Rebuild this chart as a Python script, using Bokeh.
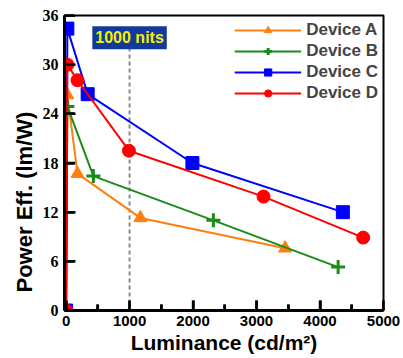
import math
from bokeh.plotting import figure
from bokeh.models import Legend, LegendItem, Label, Range1d, FixedTicker, ColumnDataSource, Title
from bokeh.embed import file_html
from bokeh.resources import INLINE

# ---- data ----
lum_a = [0, 20, 180, 1170, 3450]
pe_a = [0, 26.3, 16.7, 11.3, 7.6]
lum_b = [0, 20, 430, 2320, 4285]
pe_b = [0, 24.9, 16.4, 11.0, 5.3]
lum_c = [0, 20, 340, 1990, 4360]
pe_c = [0, 34.4, 26.4, 18.0, 12.0]
lum_d = [0, 20, 180, 990, 3110, 4680]
pe_d = [0, 30.0, 28.1, 19.5, 13.9, 8.9]

labels = ["Device A", "Device B", "Device C", "Device D"]
colors = ["#ff7f0e", "#1a8c1a", "#0000ff", "#ff0000"]
markers = ["triangle", "cross", "square", "circle"]

x_ticks = [0, 1000, 2000, 3000, 4000, 5000]
x_minor = [500, 1500, 2500, 3500, 4500]
y_ticks = [0, 6, 12, 18, 24, 30, 36]
nits_x = 1000
nits_text = "1000 nits"

X0, X1, Y0, Y1 = -25, 5000, 0, 36
p = figure(width=403, height=358, output_backend="svg", toolbar_location=None,
           x_range=Range1d(X0, X1), y_range=Range1d(Y0, Y1),
           min_border_left=64, min_border_right=20, min_border_top=15, min_border_bottom=48)
p.background_fill_color = "white"
p.border_fill_color = "white"
p.xgrid.visible = False
p.ygrid.visible = False
p.outline_line_color = "black"
p.outline_line_width = 2

# tick marks: length in pixels converted to data units
fw, fh = 319.0, 295.0
ux = (X1 - X0) / fw
uy = (Y1 - Y0) / fh
tick_src = ColumnDataSource(dict(
    x0=[float(v) for v in x_ticks], y0=[float(Y0)] * len(x_ticks),
    x1=[float(v) for v in x_ticks], y1=[Y0 + 10.0 * uy] * len(x_ticks)))
p.segment(x0="x0", y0="y0", x1="x1", y1="y1", source=tick_src,
          line_color="black", line_width=2.5)
minor_src = ColumnDataSource(dict(
    x0=[float(v) for v in x_minor], y0=[float(Y0)] * len(x_minor),
    x1=[float(v) for v in x_minor], y1=[Y0 + 6.0 * uy] * len(x_minor)))
p.segment(x0="x0", y0="y0", x1="x1", y1="y1", source=minor_src,
          line_color="black", line_width=2.5)
ytick_src = ColumnDataSource(dict(
    x0=[float(X0)] * len(y_ticks), y0=[float(v) for v in y_ticks],
    x1=[X0 + 11.0 * ux] * len(y_ticks), y1=[float(v) for v in y_ticks]))
p.segment(x0="x0", y0="y0", x1="x1", y1="y1", source=ytick_src,
          line_color="black", line_width=2.5)

# dashed reference line at 1000 nits
p.segment(x0=[nits_x], y0=[0], x1=[nits_x], y1=[32], line_color="#8a8a8a",
          line_width=2, line_dash="4 3")

series = [(lum_a, pe_a), (lum_b, pe_b), (lum_c, pe_c), (lum_d, pe_d)]
items = []
for (xs, ys), lab, col, mk in zip(series, labels, colors, markers):
    src = ColumnDataSource(dict(x=xs, y=ys))
    r1 = p.line("x", "y", source=src, line_color=col, line_width=2)
    if mk == "cross":
        r2 = p.scatter("x", "y", source=src, marker=mk, size=14, line_color=col, line_width=3)
    else:
        r2 = p.scatter("x", "y", source=src, marker=mk, size=13, fill_color=col, line_color=col)
    items.append(LegendItem(label=lab, renderers=[r1, r2]))

legend = Legend(items=items, location="top_right", glyph_width=67, glyph_height=18,
                label_height=18, spacing=1, padding=0, margin=5,
                label_text_font="Liberation Sans", label_text_font_style="bold",
                label_text_font_size="17px", label_standoff=5,
                border_line_color=None, background_fill_alpha=0)
p.add_layout(legend)

lbl = Label(x=nits_x, y=33.3, text=nits_text, text_align="center", text_baseline="middle",
            text_color="#f5f000", text_font="Liberation Sans", text_font_style="bold",
            text_font_size="16px", background_fill_color="#123a9c", padding=3)
p.add_layout(lbl)

# y-axis title, shifted down from centre as in the reference
ytitle = Title(text="Power Eff. (lm/W)", align="left", offset=18, standoff=6,
               text_font="Liberation Sans", text_font_style="bold", text_font_size="22px",
               text_color="black")
p.add_layout(ytitle, "left")

# axes (inner ticks requested too)
p.xaxis.ticker = FixedTicker(ticks=x_ticks, minor_ticks=x_minor)
p.yaxis.ticker = FixedTicker(ticks=y_ticks, minor_ticks=[])
for ax in (p.xaxis, p.yaxis):
    ax.axis_line_width = 3
    ax.axis_line_color = "black"
    ax.major_tick_in = 10
    ax.major_tick_out = 0
    ax.minor_tick_in = 6
    ax.minor_tick_out = 0
    ax.major_tick_line_width = 2.5
    ax.minor_tick_line_width = 2.5
    ax.major_label_text_font_style = "bold"
    ax.major_label_text_color = "black"
    ax.axis_label_text_font = "Liberation Sans"
    ax.axis_label_text_font_style = "bold"
    ax.axis_label_text_color = "black"

p.xaxis.major_label_text_font = "Liberation Sans"
p.xaxis.major_label_text_font_size = "15px"
p.xaxis.major_label_standoff = 5
p.xaxis.axis_label = "Luminance (cd/m\u00b2)"
p.xaxis.axis_label_text_font_size = "21px"
p.xaxis.axis_label_standoff = 2

p.yaxis.major_label_text_font = "Liberation Serif"
p.yaxis.major_label_text_font_size = "16px"
p.yaxis.major_label_standoff = 6

open("out.html", "w").write(file_html(p, INLINE))
